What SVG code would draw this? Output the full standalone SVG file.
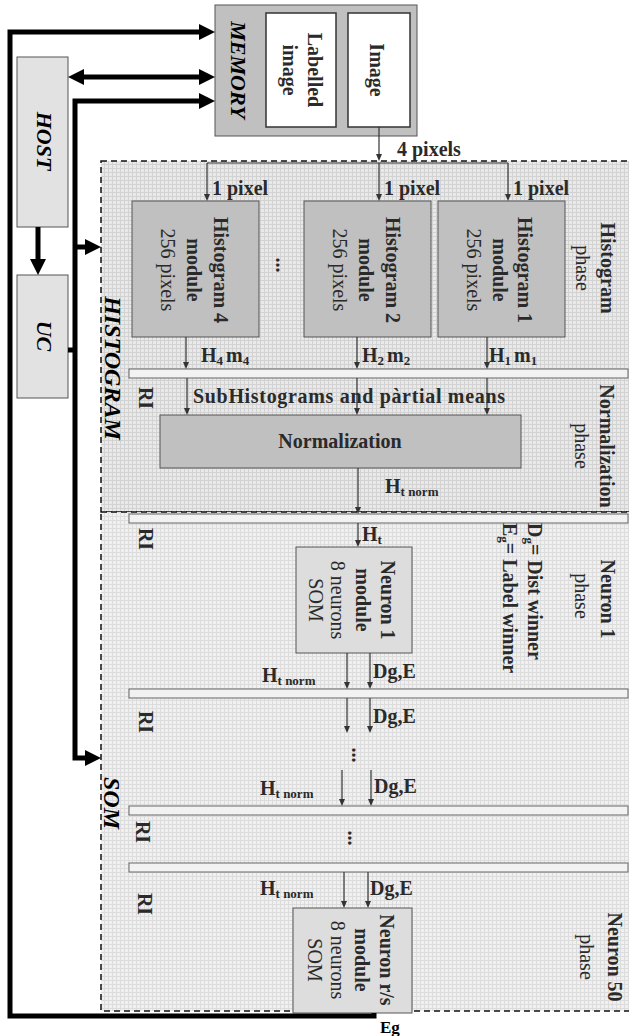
<svg xmlns="http://www.w3.org/2000/svg" width="629" height="1036" viewBox="0 0 629 1036">
<defs>
<pattern id="grid1" width="4" height="4" patternUnits="userSpaceOnUse"><rect width="4" height="4" fill="#e9e9e9"/><path d="M0 0.5H4M0.5 0V4" stroke="#d2d2d2" stroke-width="1"/></pattern>
<pattern id="grid2" width="4" height="4" patternUnits="userSpaceOnUse"><rect width="4" height="4" fill="#f0f0f0"/><path d="M0 0.5H4M0.5 0V4" stroke="#dcdcdc" stroke-width="1"/></pattern>
<marker id="big" markerWidth="16" markerHeight="16" refX="2" refY="8" orient="auto-start-reverse" markerUnits="userSpaceOnUse"><path d="M0 0 L16 8 L0 16 Z" fill="#000"/></marker>
<marker id="sm" markerWidth="7" markerHeight="6" refX="1" refY="3" orient="auto" markerUnits="userSpaceOnUse"><path d="M0 0 L7 3 L0 6 Z" fill="#333"/></marker>
</defs>
<style>
text{font-family:"Liberation Serif","Times New Roman",serif;fill:#2a2a2a;}
.b{font-weight:bold;}
.bi{font-weight:bold;font-style:italic;fill:#000;}
.f20{font-size:20px;}
.c{text-anchor:middle;dominant-baseline:central;}
.s{dominant-baseline:central;}
.sub{font-size:13px;}
.gbox{fill:#c0c0c0;stroke:#555;stroke-width:1;}
.lbox{fill:#dddddd;stroke:#555;stroke-width:1;}
.wbox{fill:#fff;stroke:#333;stroke-width:1.5;}
.ri{fill:#f2f2f2;stroke:#666;stroke-width:1;}
.thin{stroke:#333;stroke-width:1.2;fill:none;marker-end:url(#sm);}
.thick{stroke:#000;stroke-width:5;fill:none;}
.dash{fill:none;stroke:#111;stroke-width:1.5;stroke-dasharray:6 4;}
</style>

<!-- regions -->
<g id="region-histogram">
<rect x="101" y="161" width="530" height="351" fill="url(#grid1)"/>
<rect x="101" y="161" width="530" height="351" class="dash"/>
<text class="bi c" font-size="24" transform="translate(113,368) rotate(90)">HISTOGRAM</text>
</g>
<g id="region-som">
<rect x="101" y="512" width="530" height="499" fill="url(#grid2)"/>
<rect x="101" y="512" width="530" height="499" class="dash"/>
<text class="bi c" font-size="24" transform="translate(112,803) rotate(90)">SOM</text>
</g>

<!-- memory -->
<g id="memory">
<rect x="215" y="5" width="202" height="131" class="gbox"/>
<text class="bi c" font-size="22" transform="translate(238,70) rotate(90)">MEMORY</text>
</g>
<g id="labelled-image">
<rect x="266" y="13" width="70" height="114" class="wbox"/>
<text class="b c f20" transform="translate(315,70) rotate(90)">Labelled</text>
<text class="b c f20" transform="translate(290,70) rotate(90)">image</text>
</g>
<g id="image">
<rect x="348" y="13" width="62" height="114" class="wbox"/>
<text class="b c f20" transform="translate(377,70) rotate(90)">Image</text>
</g>

<!-- host / uc -->
<g id="host">
<rect x="17" y="57" width="51" height="170" fill="#e2e2e2" stroke="#555"/>
<text class="bi c" font-size="22" transform="translate(44,141) rotate(90)">HOST</text>
</g>
<g id="uc">
<rect x="17" y="275" width="51" height="123" fill="#e2e2e2" stroke="#555"/>
<text class="bi c" font-size="22" transform="translate(44,336) rotate(90)">UC</text>
</g>

<!-- histogram modules -->
<g id="hist4">
<rect x="132" y="201" width="127" height="136" class="gbox"/>
<text class="b c f20" transform="translate(221,270) rotate(90)">Histogram 4</text>
<text class="b c f20" transform="translate(194,270) rotate(90)">module</text>
<text class="c f20" transform="translate(168,270) rotate(90)">256 pixels</text>
</g>
<g id="hist2">
<rect x="304" y="201" width="127" height="136" class="gbox"/>
<text class="b c f20" transform="translate(393,270) rotate(90)">Histogram 2</text>
<text class="b c f20" transform="translate(366,270) rotate(90)">module</text>
<text class="c f20" transform="translate(340,270) rotate(90)">256 pixels</text>
</g>
<g id="hist1">
<rect x="438" y="201" width="127" height="136" class="gbox"/>
<text class="b c f20" transform="translate(525,270) rotate(90)">Histogram 1</text>
<text class="b c f20" transform="translate(500,270) rotate(90)">module</text>
<text class="c f20" transform="translate(474,270) rotate(90)">256 pixels</text>
</g>
<text class="b c f20" transform="translate(283,265) rotate(90)">...</text>
<g id="histogram-phase">
<text class="b c f20" transform="translate(608,268) rotate(90)">Histogram</text>
<text class="c f20" transform="translate(583,268) rotate(90)">phase</text>
</g>

<!-- RI bars -->
<g id="ri1"><rect x="129" y="369" width="499" height="9" class="ri"/><text class="b c f20" transform="translate(146,398) rotate(90)">RI</text></g>
<g id="ri2"><rect x="129" y="514" width="499" height="9" class="ri"/><text class="b c f20" transform="translate(146,539) rotate(90)">RI</text></g>
<g id="ri3"><rect x="129" y="689" width="499" height="9" class="ri"/><text class="b c f20" transform="translate(146,722) rotate(90)">RI</text></g>
<g id="ri4"><rect x="129" y="806" width="499" height="9" class="ri"/><text class="b c f20" transform="translate(143,832) rotate(90)">RI</text></g>
<g id="ri5"><rect x="129" y="863" width="499" height="9" class="ri"/><text class="b c f20" transform="translate(145,904) rotate(90)">RI</text></g>

<!-- normalization -->
<g id="normalization">
<rect x="160" y="415" width="361" height="53" class="gbox"/>
<text class="b f20" x="340" y="448" text-anchor="middle">Normalization</text>
</g>
<g id="normalization-phase">
<text class="b c f20" transform="translate(607,446) rotate(90)">Normalization</text>
<text class="c f20" transform="translate(582,446) rotate(90)">phase</text>
</g>

<!-- neurons -->
<g id="neuron1">
<rect x="296" y="547" width="116" height="106" class="lbox"/>
<text class="b c f20" transform="translate(388,600) rotate(90)">Neuron 1</text>
<text class="b c f20" transform="translate(363,600) rotate(90)">module</text>
<text class="c f20" transform="translate(338,600) rotate(90)">8 neurons</text>
<text class="c f20" transform="translate(316,600) rotate(90)">SOM</text>
</g>
<g id="neuron1-phase">
<text class="b c f20" transform="translate(608,599) rotate(90)">Neuron 1</text>
<text class="c f20" transform="translate(582,596) rotate(90)">phase</text>
</g>
<g id="legend">
<text class="b s f20" transform="translate(535,523) rotate(90)">D<tspan class="sub" dy="5">g</tspan><tspan dy="-5">= Dist winner</tspan></text>
<text class="b s f20" transform="translate(510,523) rotate(90)">E<tspan class="sub" dy="5">g</tspan><tspan dy="-5">= Label winner</tspan></text>
</g>
<g id="neuron50">
<rect x="293" y="908" width="119" height="105" class="lbox"/>
<text class="b c f20" transform="translate(387,960) rotate(90)">Neuron r/s</text>
<text class="b c f20" transform="translate(362,960) rotate(90)">module</text>
<text class="c f20" transform="translate(338,960) rotate(90)">8 neurons</text>
<text class="c f20" transform="translate(315,960) rotate(90)">SOM</text>
</g>
<g id="neuron50-phase">
<text class="b c f20" transform="translate(615,957) rotate(90)">Neuron 50</text>
<text class="c f20" transform="translate(587,957) rotate(90)">phase</text>
</g>

<!-- connectors -->
<g id="connectors">
<path class="thick" d="M374 1013 V1016 H10 V32 H201" marker-end="url(#big)"/>
<path class="thick" d="M82 77 H201" marker-start="url(#big)" marker-end="url(#big)"/>
<path class="thick" d="M201 101 H75 V758 H87" marker-start="url(#big)" marker-end="url(#big)"/>
<path class="thick" d="M75 247 H87" marker-end="url(#big)"/>
<path class="thick" d="M68 350 H75"/>
<path class="thick" d="M38 227 V261" marker-end="url(#big)"/>

<path class="thin" d="M379 127 V155"/>
<path d="M207 163 H508" stroke="#333" stroke-width="1.2"/>
<path class="thin" d="M207 163 V195"/>
<path class="thin" d="M379 163 V195"/>
<path class="thin" d="M508 163 V195"/>
<path class="thin" d="M186 337 V363"/>
<path class="thin" d="M357 337 V363"/>
<path class="thin" d="M487 337 V363"/>
<path class="thin" d="M187 378 V409"/>
<path class="thin" d="M357 378 V409"/>
<path class="thin" d="M487 378 V409"/>
<path class="thin" d="M358 468 V508"/>
<path class="thin" d="M358 523 V541"/>
<path class="thin" d="M347 653 V683"/>
<path class="thin" d="M370 653 V683"/>
<path class="thin" d="M347 698 V727"/>
<path class="thin" d="M370 698 V727"/>
<path class="thin" d="M342 770 V800"/>
<path class="thin" d="M371 770 V800"/>
<path class="thin" d="M344 872 V902"/>
<path class="thin" d="M368 872 V902"/>
</g>

<!-- connector labels -->
<g id="labels">
<text class="b f20" x="397" y="156">4 pixels</text>
<text class="b f20" x="212" y="195">1 pixel</text>
<text class="b f20" x="384" y="195">1 pixel</text>
<text class="b f20" x="513" y="195">1 pixel</text>
<text class="b f20" x="201" y="362">H<tspan class="sub" dy="3">4</tspan><tspan dx="3" dy="-3">m</tspan><tspan class="sub" dy="3">4</tspan></text>
<text class="b f20" x="362" y="362">H<tspan class="sub" dy="3">2</tspan><tspan dx="3" dy="-3">m</tspan><tspan class="sub" dy="3">2</tspan></text>
<text class="b f20" x="489" y="362">H<tspan class="sub" dy="3">1</tspan><tspan dx="3" dy="-3">m</tspan><tspan class="sub" dy="3">1</tspan></text>
<text class="b f20" x="193" y="403" textLength="312">SubHistograms  and pàrtial means</text>
<text class="b f20" x="385" y="493">H<tspan class="sub" dy="3">t norm</tspan></text>
<text class="b f20" x="362" y="541">H<tspan class="sub" dy="3">t</tspan></text>
<text class="b f20" x="262" y="682">H<tspan class="sub" dy="3">t norm</tspan></text>
<text class="b f20" x="373" y="678">Dg,E</text>
<text class="b f20" x="373" y="723">Dg,E</text>
<text class="b c f20" transform="translate(359,755) rotate(90)">...</text>
<text class="b f20" x="260" y="795">H<tspan class="sub" dy="3">t norm</tspan></text>
<text class="b f20" x="374" y="793">Dg,E</text>
<text class="b c f20" transform="translate(355,838) rotate(90)">...</text>
<text class="b f20" x="260" y="895">H<tspan class="sub" dy="3">t norm</tspan></text>
<text class="b f20" x="370" y="895">Dg,E</text>
<text class="b" font-size="17" x="380" y="1033" style="fill:#000">Eg</text>
</g>
</svg>
